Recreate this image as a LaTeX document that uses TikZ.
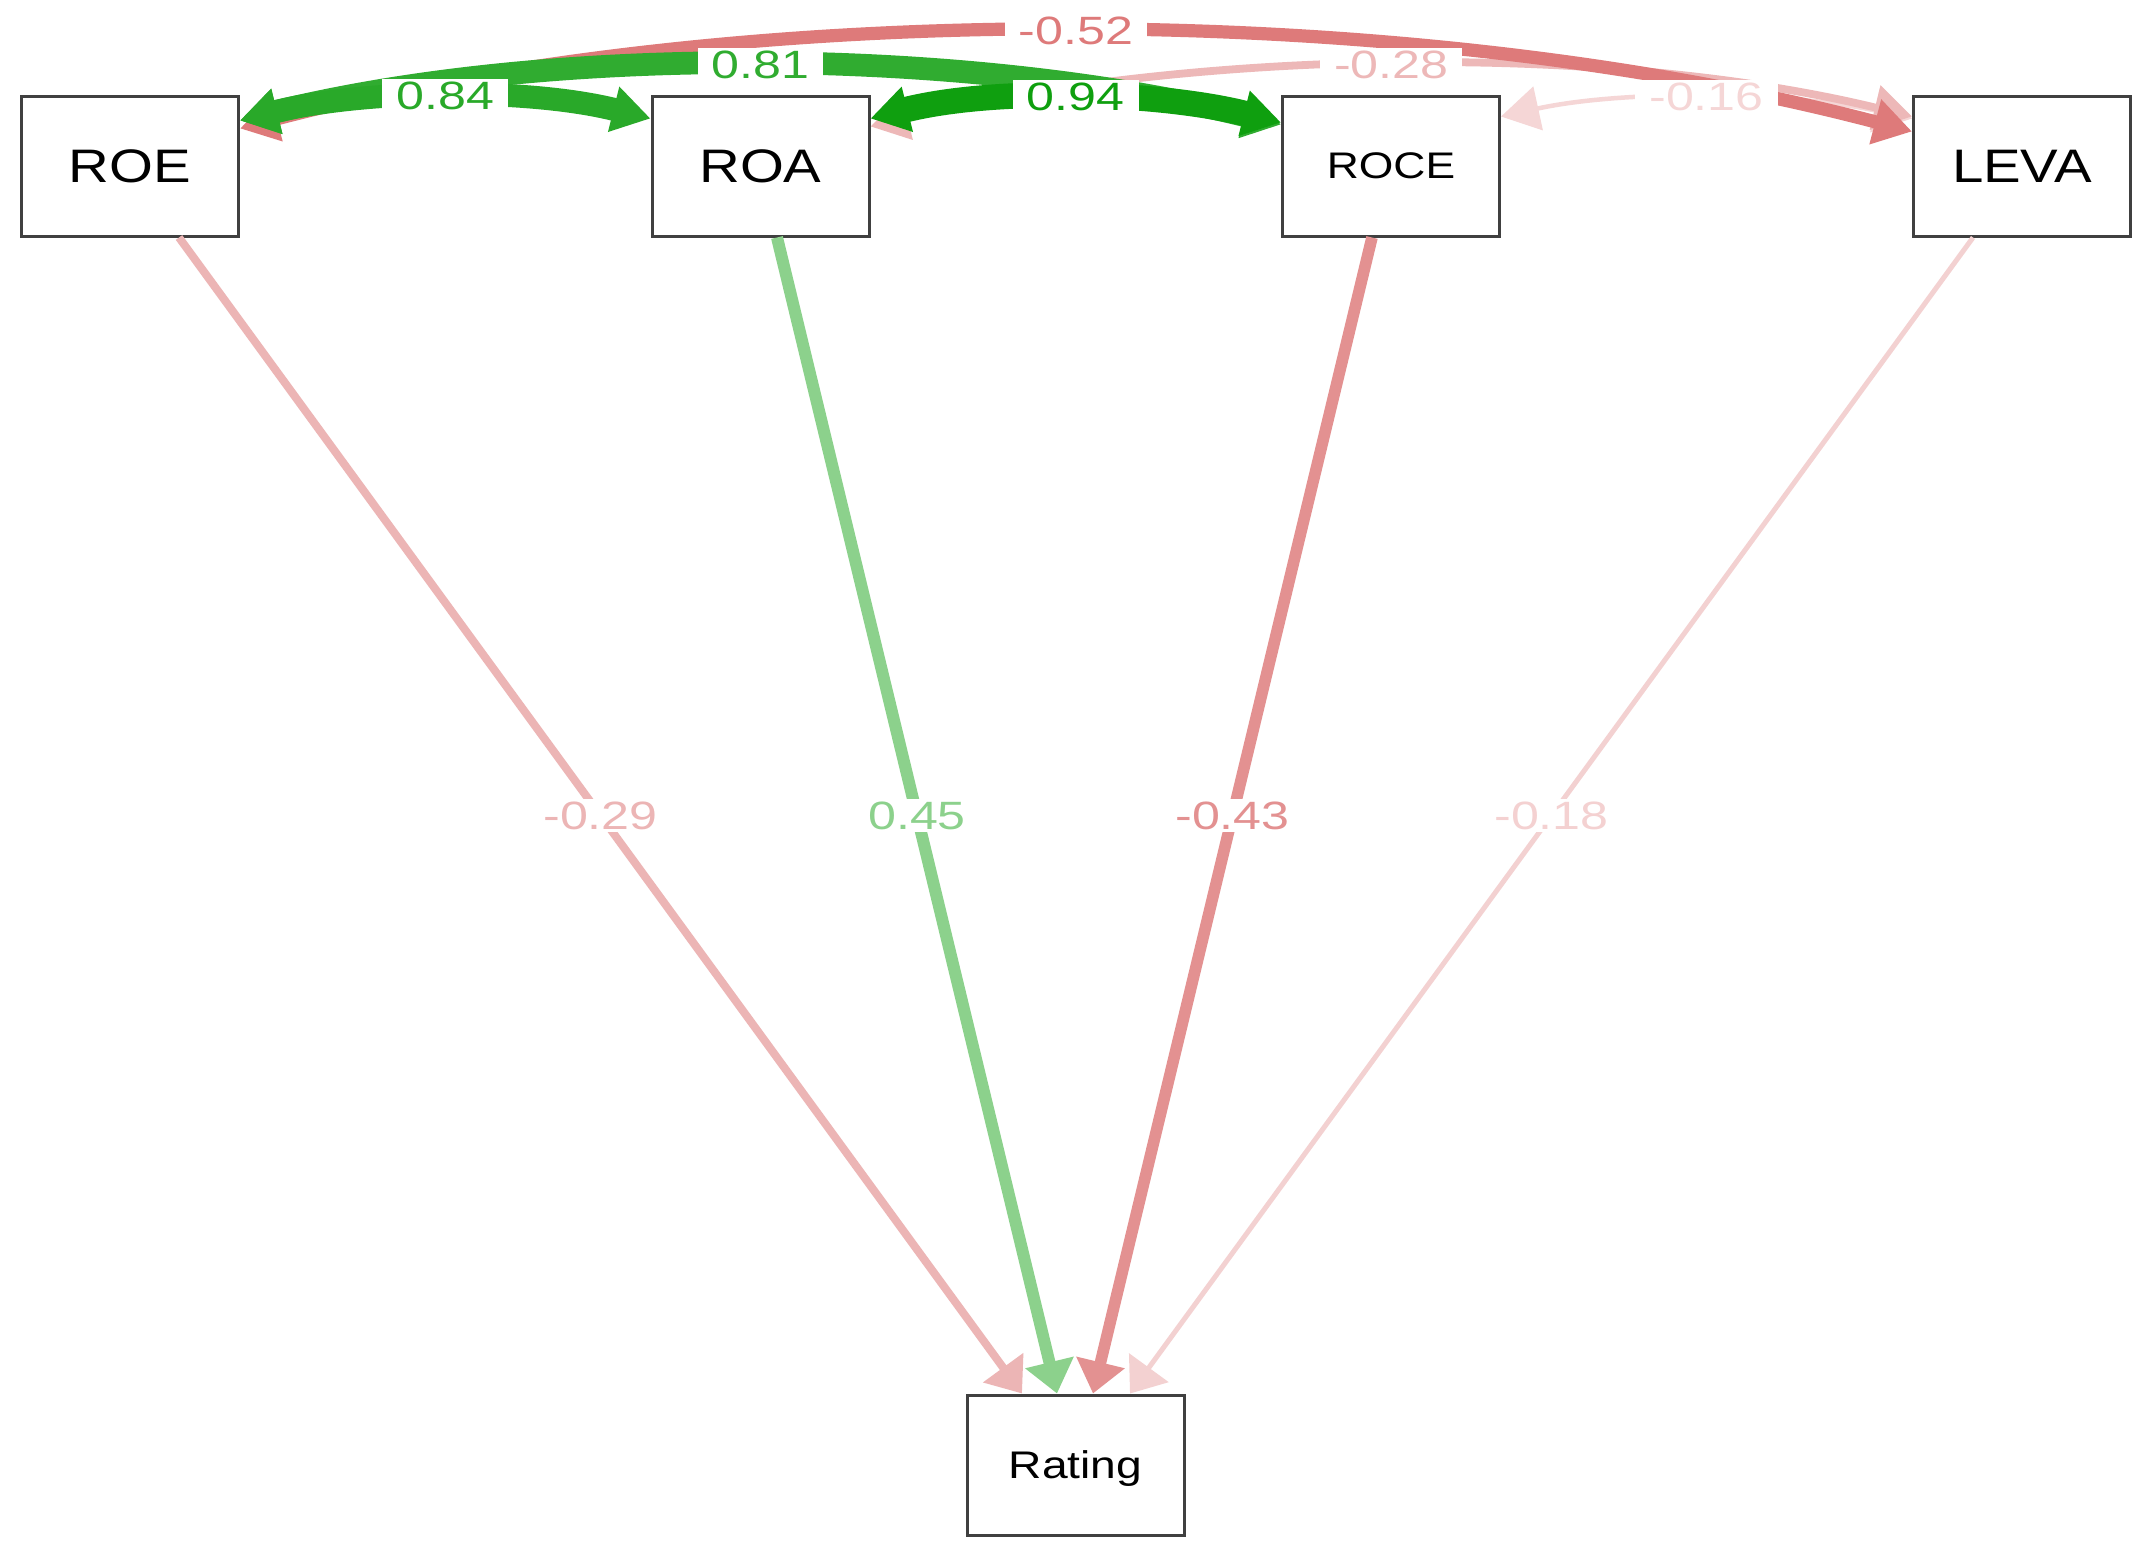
\documentclass[tikz,border=0pt]{standalone}
\usepackage{fontspec}
\setmainfont{Liberation Sans}[FakeStretch=1.2]
\newfontfamily\labfont{Liberation Sans}[FakeStretch=1.27]
\usetikzlibrary{arrows.meta,calc}
\definecolor{negc}{HTML}{BF0000}
\definecolor{posc}{HTML}{009900}
\definecolor{boxc}{HTML}{404040}
\colorlet{p84}{posc!84!white}
\colorlet{p81}{posc!81!white}
\colorlet{p94}{posc!94!white}
\colorlet{p45}{posc!45!white}
\colorlet{n52}{negc!52!white}
\colorlet{n28}{negc!28!white}
\colorlet{n16}{negc!16!white}
\colorlet{n29}{negc!29!white}
\colorlet{n43}{negc!43!white}
\colorlet{n18}{negc!18!white}
\begin{document}
\begin{tikzpicture}[x=1pt,y=-1pt,
  var/.style={draw=boxc, line width=3pt, fill=white, minimum width=217pt,
    minimum height=140pt, inner sep=0pt, font=\fontsize{47}{47}\selectfont},
  pth/.style={line width=#1, -{Triangle[length=32pt,width=48pt]}},
  bipth/.style={line width=#1,
    {Triangle[length=38pt,width=44pt]}-{Triangle[length=38pt,width=44pt]}},
  elabel/.style={fill=white, inner xsep=14pt, inner ysep=3pt,
    font=\labfont\fontsize{39.5}{39.5}\selectfont}
]
\useasboundingbox (0,0) rectangle (2152,1561);
\fill[white] (0,0) rectangle (2152,1561);

% variables
\node[var] (roe) at (130,166) {ROE};
\node[var] (roa) at (760.5,166) {ROA};
\node[var, font=\fontsize{37}{37}\selectfont] (roce) at (1391,166) {ROCE};
\node[var] (leva) at (2022,166) {LEVA};
\node[var, font=\fontsize{38.5}{38.5}\selectfont, text depth=0pt] (rating) at (1075.5,1465) {Rating};

% regressions
\draw[pth=8pt, draw=n29] ([xshift=49pt]roe.south) -- ([xshift=-53.5pt]rating.north) coordinate[pos=0.5] (l29);
\draw[pth=12pt, draw=p45] ([xshift=16.5pt]roa.south) -- ([xshift=-18.5pt]rating.north) coordinate[pos=0.5] (l45);
\draw[pth=11.6pt, draw=n43] ([xshift=-19pt]roce.south) -- ([xshift=17.5pt]rating.north) coordinate[pos=0.5] (l43);
\draw[pth=5pt, draw=n18] ([xshift=-49pt]leva.south) -- ([xshift=54.5pt]rating.north) coordinate[pos=0.5] (l18);

% covariances
\draw[bipth=4.5pt, draw=n16] ($(roce.north east)+(0,22)$) .. controls +(124,-27) and +(-124,-27) .. ($(leva.north west)+(0,24)$) coordinate[pos=0.5] (c16);
\draw[bipth=7.8pt, draw=n28] ($(roa.north east)+(0,32)$) .. controls +(313,-76) and +(-313,-76) .. ($(leva.north west)+(0,22)$) coordinate[pos=0.5] (c28);
\draw[bipth=13.2pt, draw=n52] ($(roe.north east)+(0,34)$) .. controls +(502,-132) and +(-502,-132) .. ($(leva.north west)+(0,37)$) coordinate[pos=0.5] (c52);
\draw[bipth=22.7pt, draw=p81] ($(roe.north east)+(0,26)$) .. controls +(313,-77) and +(-313,-77) .. ($(roce.north west)+(0,30)$) coordinate[pos=0.5] (c81);
\draw[bipth=25.5pt, draw=p94] ($(roa.north east)+(0,24)$) .. controls +(124,-31) and +(-124,-31) .. ($(roce.north west)+(0,28)$) coordinate[pos=0.5] (c94);
\draw[bipth=23pt, draw=p84] ($(roe.north east)+(0,26)$) .. controls +(124,-31) and +(-124,-31) .. ($(roa.north west)+(0,24)$) coordinate[pos=0.5] (c84);

% labels
\node[elabel, text=n29] at (l29) {-0.29};
\node[elabel, text=p45] at (l45) {0.45};
\node[elabel, text=n43] at (l43) {-0.43};
\node[elabel, text=n18] at (l18) {-0.18};
\node[elabel, text=n16] at (c16) {-0.16};
\node[elabel, text=n28] at (c28) {-0.28};
\node[elabel, text=n52] at (c52) {-0.52};
\node[elabel, text=p81] at (c81) {0.81};
\node[elabel, text=p94] at (c94) {0.94};
\node[elabel, text=p84] at (c84) {0.84};
\end{tikzpicture}
\end{document}
